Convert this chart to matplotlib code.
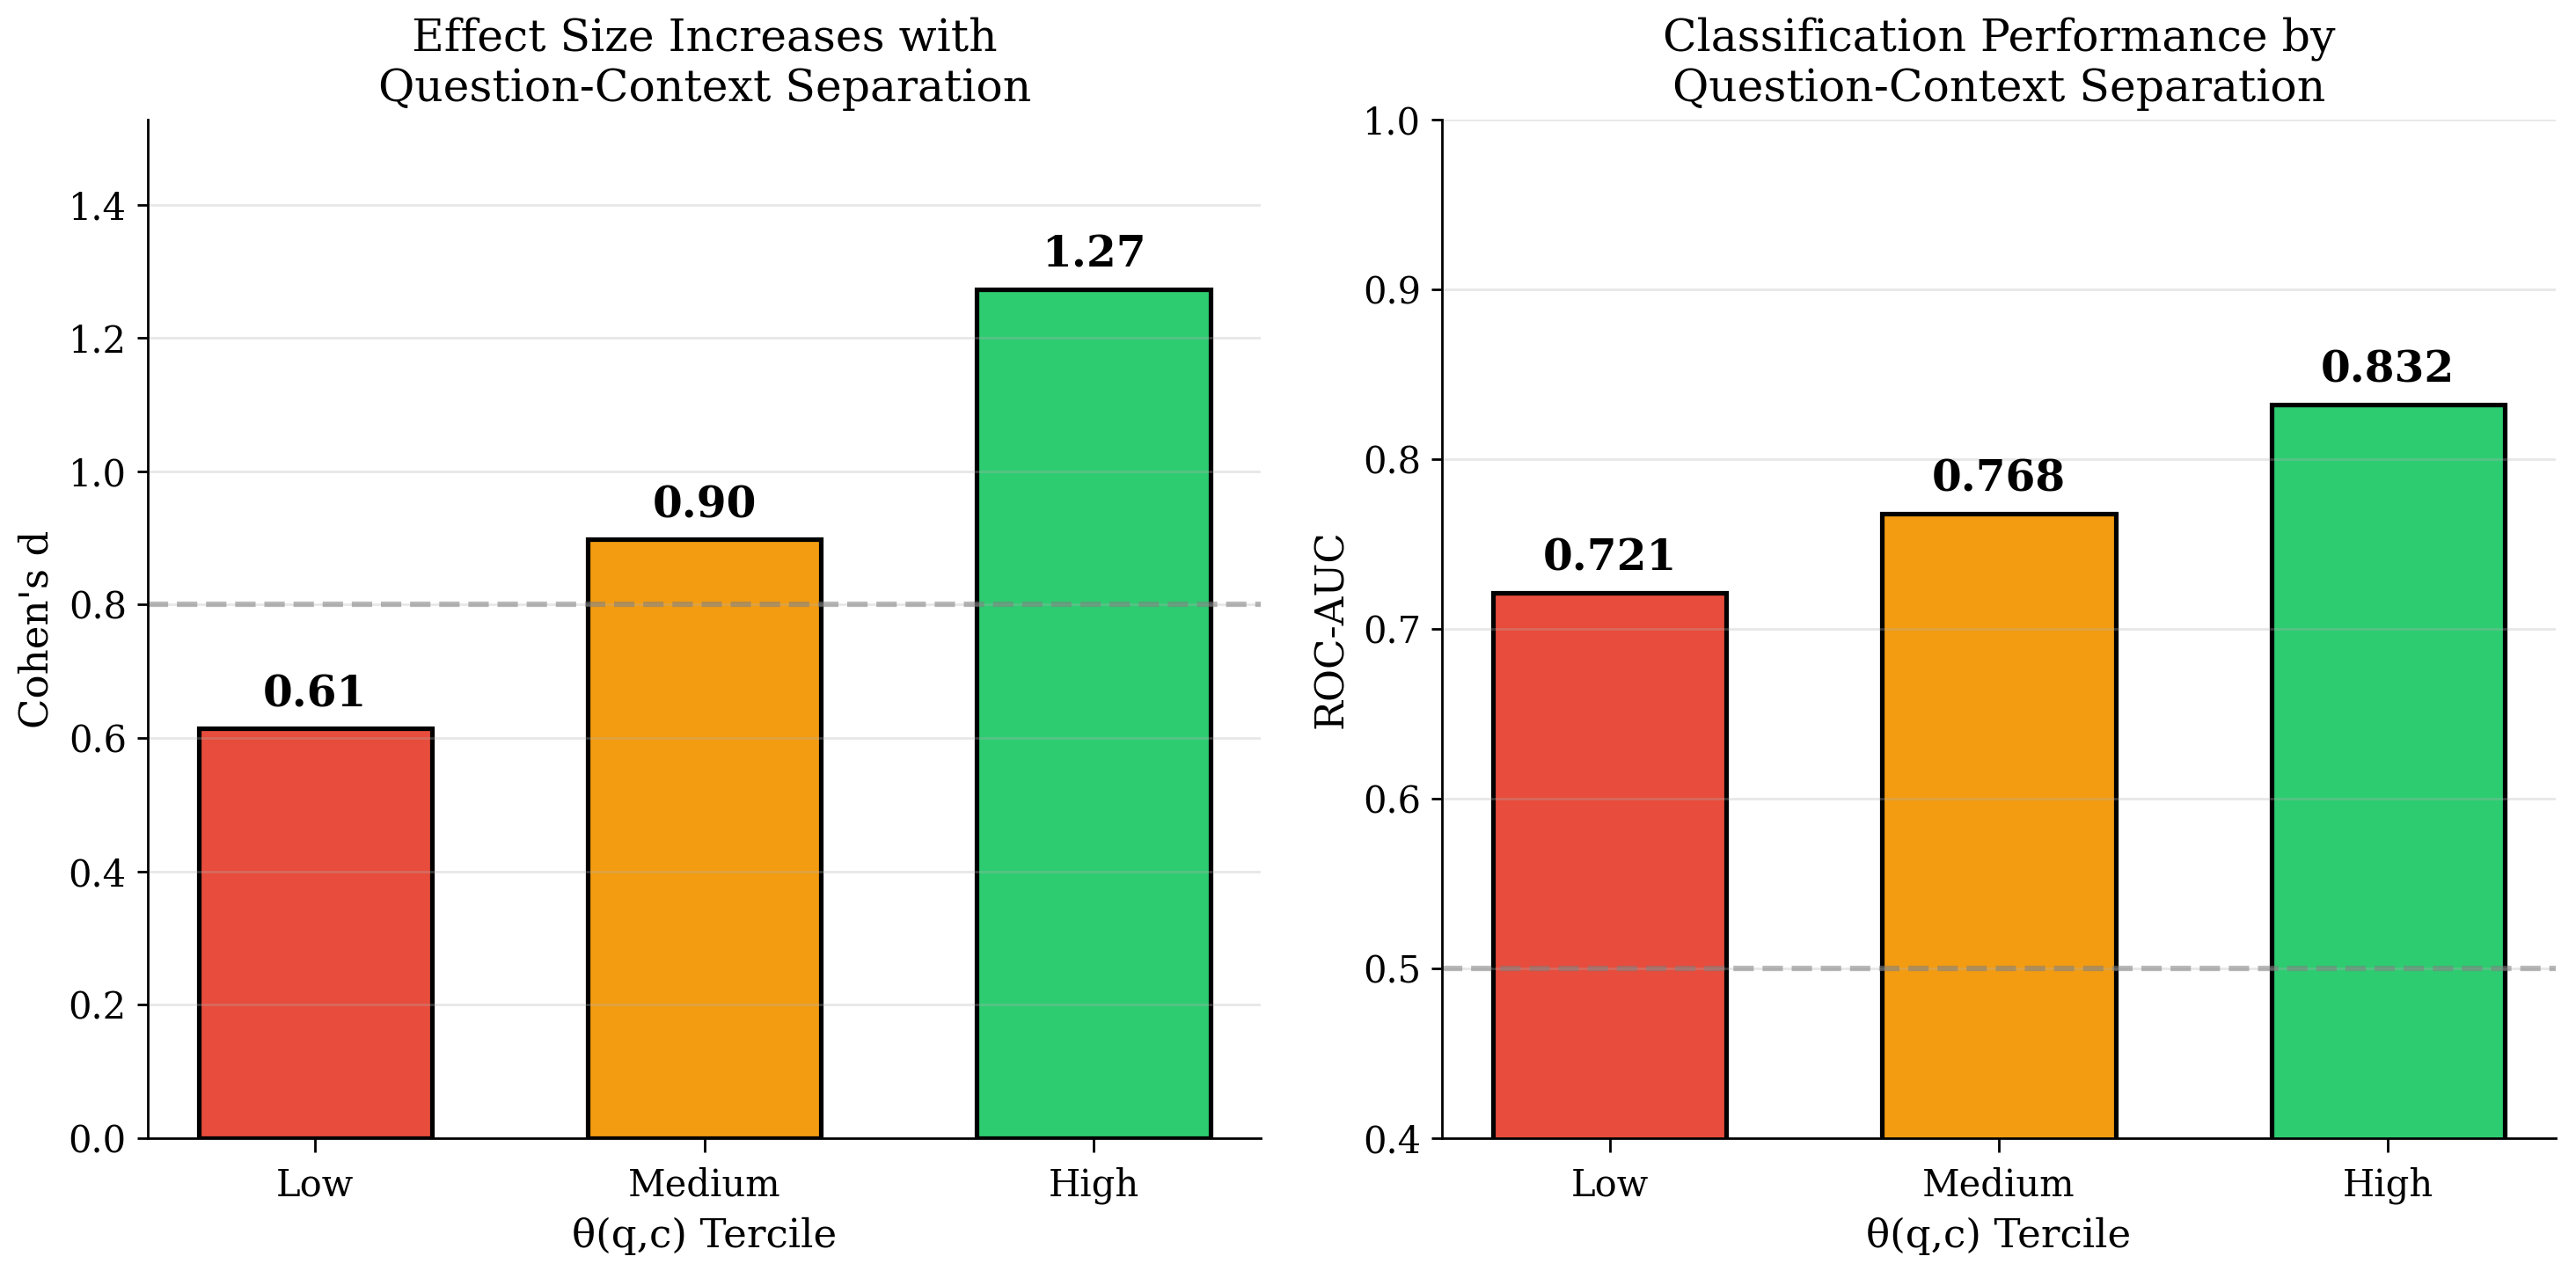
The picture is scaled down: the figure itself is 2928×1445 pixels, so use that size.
import matplotlib
matplotlib.use('Agg')
import matplotlib.pyplot as plt
import numpy as np

# Effect size and AUC by theta(q,c) tercile
terciles = ['Low', 'Medium', 'High']
cohens_d = [0.614, 0.898, 1.273]
roc_auc = [0.721, 0.768, 0.832]
bar_colors = ['#e74c3c', '#f39c12', '#2ecc71']

plt.rcParams['font.family'] = 'DejaVu Serif'

fig, (ax1, ax2) = plt.subplots(1, 2, figsize=(2928 / 250, 1445 / 250))
fig.subplots_adjust(left=0.0574, right=0.992, top=0.906, bottom=0.1045, wspace=0.163)

x = np.arange(len(terciles))

# left: Cohen's d
ax1.bar(x, cohens_d, width=0.6, color=bar_colors, edgecolor='black', linewidth=1.5)
ax1.axhline(0.8, color='gray', linestyle='--', linewidth=1.8, alpha=0.55)
ax1.set_ylim(0, max(cohens_d) * 1.2)
for xi, v in zip(x, cohens_d):
    ax1.text(xi, v + 0.02, f"{v:.2f}", ha='center', va='bottom',
             fontsize=14, fontweight='bold')
ax1.set_ylabel("Cohen's d", fontsize=13)
ax1.set_title("Effect Size Increases with\nQuestion-Context Separation", fontsize=14.5)

# right: ROC-AUC
ax2.bar(x, roc_auc, width=0.6, color=bar_colors, edgecolor='black', linewidth=1.5)
ax2.axhline(0.5, color='gray', linestyle='--', linewidth=1.8, alpha=0.55)
ax2.set_ylim(0.4, 1.0)
for xi, v in zip(x, roc_auc):
    ax2.text(xi, v + 0.008, f"{v:.3f}", ha='center', va='bottom',
             fontsize=14, fontweight='bold')
ax2.set_ylabel("ROC-AUC", fontsize=13)
ax2.set_title("Classification Performance by\nQuestion-Context Separation", fontsize=14.5)

for ax in (ax1, ax2):
    ax.set_xticks(x)
    ax.set_xticklabels(terciles, fontsize=12)
    ax.tick_params(axis='y', labelsize=12)
    ax.tick_params(axis='x', length=4.5, pad=5)
    ax.set_xlabel("θ(q,c) Tercile", fontsize=13)
    ax.grid(axis='y', alpha=0.3)
    ax.spines['top'].set_visible(False)
    ax.spines['right'].set_visible(False)

fig.savefig('out.png', dpi=250)
